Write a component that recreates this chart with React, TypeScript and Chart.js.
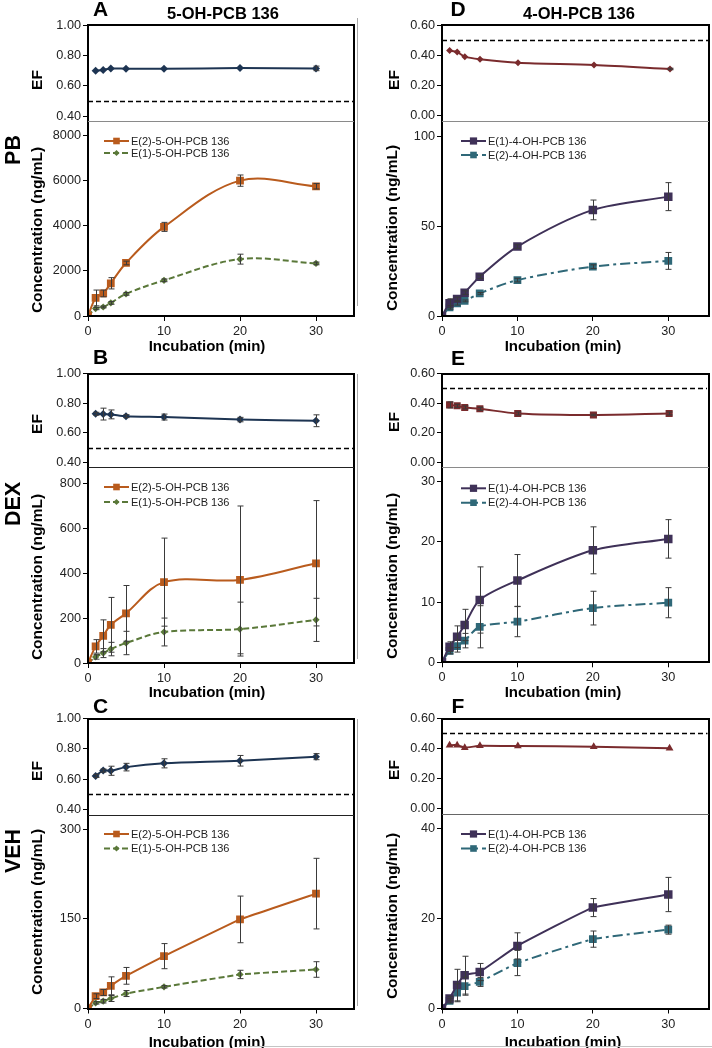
import React, { useEffect, useRef } from 'react';
import { Chart, registerables } from 'chart.js';
Chart.register(...registerables);

const FONT = "'Liberation Sans', Arial, Helvetica, sans-serif";

// ---------- data ----------
const TIME = [0, 1, 2, 3, 5, 10, 20, 30];
const EF_TIME = [1, 2, 3, 5, 10, 20, 30];
const X_TICKS = [0, 10, 20, 30];

const EF_TICKS_5OH = [0.4, 0.6, 0.8, 1.0];
const EF_TICKS_4OH = [0, 0.2, 0.4, 0.6];

const CONC_TICKS_A = [0, 2000, 4000, 6000, 8000];
const CONC_TICKS_B = [0, 200, 400, 600, 800];
const CONC_TICKS_C = [0, 150, 300];
const CONC_TICKS_D = [0, 50, 100];
const CONC_TICKS_E = [0, 10, 20, 30];
const CONC_TICKS_F = [0, 20, 40];

const LABEL_E2_5OH = 'E(2)-5-OH-PCB 136';
const LABEL_E1_5OH = 'E(1)-5-OH-PCB 136';
const LABEL_E1_4OH = 'E(1)-4-OH-PCB 136';
const LABEL_E2_4OH = 'E(2)-4-OH-PCB 136';

// EF values (A-C: 5-OH-PCB 136, D-F: 4-OH-PCB 136)
const EF_A = [0.70, 0.705, 0.715, 0.713, 0.713, 0.717, 0.715];
const EF_A_ERR = [0, 0, 0, 0, 0, 0, 0.015];
const EF_B = [0.728, 0.726, 0.724, 0.712, 0.706, 0.689, 0.681];
const EF_B_ERR = [0.01, 0.04, 0.03, 0.01, 0.02, 0.015, 0.04];
const EF_C = [0.621, 0.656, 0.655, 0.679, 0.704, 0.721, 0.748];
const EF_C_ERR = [0.01, 0.01, 0.03, 0.025, 0.03, 0.035, 0.02];
const EF_D = [0.43, 0.42, 0.39, 0.373, 0.35, 0.335, 0.308];
const EF_D_ERR = [0, 0, 0, 0, 0, 0, 0.005];
const EF_E = [0.388, 0.382, 0.371, 0.362, 0.330, 0.320, 0.330];
const EF_E_ERR = [0.02, 0.01, 0.01, 0.01, 0.01, 0.005, 0.01];
const EF_F = [0.422, 0.422, 0.405, 0.418, 0.416, 0.412, 0.401];
const EF_F_ERR = [0, 0, 0, 0, 0, 0, 0];

// Concentrations (ng/mL)
const A_E2 = [0, 800, 1000, 1450, 2350, 3950, 6000, 5750];
const A_E2_ERR = [0, 350, 150, 250, 80, 200, 250, 120];
const A_E1 = [0, 330, 400, 580, 980, 1580, 2520, 2330];
const A_E1_ERR = [0, 50, 40, 60, 60, 60, 220, 60];

const B_E2 = [0, 74, 121, 170, 221, 360, 370, 444];
const B_E2_ERR = [0, 30, 71, 122, 124, 196, 329, 279];
const B_E1 = [0, 27, 44, 62, 89, 138, 151, 192];
const B_E1_ERR = [0, 10, 20, 30, 52, 62, 120, 96];

const C_E2 = [0, 20.6, 26.8, 37.9, 54.6, 87.5, 148.9, 192];
const C_E2_ERR = [0, 4, 5, 15, 14, 21, 39, 59];
const C_E1 = [0, 9.4, 12.2, 16.7, 25, 36.2, 56.9, 65.2];
const C_E1_ERR = [0, 2, 3, 5, 5, 2, 7, 13];

const D_E1 = [0, 7.1, 9.5, 13, 21.9, 38.7, 59.1, 66.5];
const D_E1_ERR = [0, 2.5, 1, 1, 1, 1, 5.5, 7.8];
const D_E2 = [0, 4.8, 7.1, 8.4, 12.6, 20, 27.5, 30.7];
const D_E2_ERR = [0, 1, 1, 0.5, 0.5, 1, 1, 4.7];

const E_E1 = [0, 2.6, 4.25, 6.2, 10.35, 13.6, 18.6, 20.5];
const E_E1_ERR = [0, 0.8, 1.8, 2.6, 5.5, 4.3, 3.9, 3.2];
const E_E2 = [0, 1.9, 2.7, 3.6, 5.9, 6.75, 9.0, 9.9];
const E_E2_ERR = [0, 0.5, 1.0, 1.2, 3.5, 2.5, 2.8, 2.5];

const F_E1 = [0, 2.2, 5.2, 7.4, 8.1, 13.9, 22.4, 25.3];
const F_E1_ERR = [0, 0.5, 3.5, 4.2, 1.9, 2.9, 2, 3.8];
const F_E2 = [0, 1.7, 3.5, 4.95, 5.9, 10.1, 15.4, 17.5];
const F_E2_ERR = [0, 0.5, 2, 2, 1, 2.8, 1.8, 1.0];

// ---------- styles ----------
const NAVY = '#1d3452';
const DARKRED = '#7a2b2d';
const ORANGE = '#b95b1d';
const GREEN = '#5a7839';
const PURPLE = '#3f3158';
const TEAL = '#2f6878';

type SeriesSpec = {
  label: string; xs: number[]; ys: number[]; err: number[];
  color: string; style: string; radius: number; dash: number[]; tension: number; width: number;
};

function drawMarker(ctx: CanvasRenderingContext2D, style: string, x: number, y: number, r: number, color: string) {
  ctx.save();
  ctx.fillStyle = color;
  ctx.beginPath();
  if (style === 'rect') {
    const s = r * Math.SQRT1_2;
    ctx.rect(x - s, y - s, 2 * s, 2 * s);
  } else if (style === 'rectRot') {
    ctx.moveTo(x, y - r); ctx.lineTo(x + r, y); ctx.lineTo(x, y + r); ctx.lineTo(x - r, y); ctx.closePath();
  } else if (style === 'triangle') {
    ctx.moveTo(x, y - r); ctx.lineTo(x + r * 0.87, y + r * 0.5); ctx.lineTo(x - r * 0.87, y + r * 0.5); ctx.closePath();
  } else {
    ctx.arc(x, y, r, 0, Math.PI * 2);
  }
  ctx.fill();
  ctx.restore();
}

const errorBarPlugin = {
  id: 'errBars',
  afterDatasetsDraw(chart: any) {
    const ctx = chart.ctx;
    const xs = chart.scales.x, ys = chart.scales.y;
    chart.data.datasets.forEach((ds: any) => {
      const err = ds.errors as number[] | undefined;
      if (!err) return;
      ctx.save();
      ctx.strokeStyle = '#3a3a3a';
      ctx.lineWidth = 1;
      ds.data.forEach((pt: any, j: number) => {
        const e = err[j];
        if (!e) return;
        const px = Math.round(xs.getPixelForValue(pt.x)) + 0.5;
        const y1 = ys.getPixelForValue(pt.y - e);
        const y2 = ys.getPixelForValue(pt.y + e);
        ctx.beginPath();
        ctx.moveTo(px, y1); ctx.lineTo(px, y2);
        ctx.moveTo(px - 3, y1); ctx.lineTo(px + 3, y1);
        ctx.moveTo(px - 3, y2); ctx.lineTo(px + 3, y2);
        ctx.stroke();
      });
      ctx.restore();
    });
  },
};

const refLinePlugin = {
  id: 'refLine',
  afterDatasetsDraw(chart: any, _args: any, opts: any) {
    if (opts == null || opts.value == null) return;
    const ctx = chart.ctx;
    const a = chart.chartArea;
    const y = Math.round(chart.scales.y.getPixelForValue(opts.value)) + 0.5;
    ctx.save();
    ctx.strokeStyle = '#000';
    ctx.lineWidth = 1.5;
    ctx.setLineDash([5, 3]);
    ctx.beginPath();
    ctx.moveTo(a.left, y); ctx.lineTo(a.right, y);
    ctx.stroke();
    ctx.restore();
  },
};

const panelLegendPlugin = {
  id: 'panelLegend',
  afterDraw(chart: any, _args: any, opts: any) {
    if (!opts || !opts.show) return;
    const ctx = chart.ctx;
    const dss = chart.data.datasets;
    for (let k = 0; k < dss.length; k++) {
      const ds = dss[k];
      const y = opts.ys[k];
      const x = opts.x;
      const len = opts.len;
      ctx.save();
      ctx.strokeStyle = ds.borderColor;
      ctx.lineWidth = 2;
      ctx.setLineDash(ds.legendDash || []);
      ctx.beginPath();
      ctx.moveTo(x, y); ctx.lineTo(x + len, y);
      ctx.stroke();
      ctx.setLineDash([]);
      drawMarker(ctx, ds.pointStyle, x + len / 2, y, ds.pointRadius * 0.85, ds.borderColor);
      ctx.fillStyle = '#222';
      ctx.font = `11px ${FONT}`;
      ctx.textBaseline = 'middle';
      ctx.textAlign = 'left';
      ctx.fillText(ds.label, x + len + 2, y + 0.5);
      ctx.restore();
    }
  },
};

Chart.register(errorBarPlugin, refLinePlugin, panelLegendPlugin);

type ChartSpec = {
  w: number; h: number;
  area: { l: number; t: number; r: number; b: number };
  yMin: number; yMax: number; yTicks: number[]; yDigits: number;
  showX: boolean;
  series: SeriesSpec[];
  refLine?: number;
  legend?: { x: number; ys: number[]; len: number };
};

function makeConfig(s: ChartSpec): any {
  const tickFont = { family: FONT, size: 12.7 };
  return {
    type: 'line',
    data: {
      datasets: s.series.map((se) => ({
        label: se.label,
        data: se.xs.map((x, i) => ({ x, y: se.ys[i] })),
        errors: se.err,
        borderColor: se.color,
        backgroundColor: se.color,
        borderWidth: se.width,
        borderDash: se.dash,
        legendDash: se.dash,
        pointStyle: se.style,
        pointRadius: se.radius,
        pointBorderWidth: 0,
        pointBackgroundColor: se.color,
        pointBorderColor: se.color,
        tension: se.tension,
        fill: false,
      })),
    },
    options: {
      animation: false,
      responsive: false,
      maintainAspectRatio: false,
      devicePixelRatio: 1,
      events: [],
      layout: {
        padding: {
          left: 0,
          top: s.area.t,
          right: s.w - s.area.r,
          bottom: s.showX ? 0 : s.h - s.area.b,
        },
      },
      plugins: {
        legend: { display: false },
        tooltip: { enabled: false },
        refLine: { value: s.refLine ?? null },
        panelLegend: s.legend ? { show: true, x: s.legend.x, ys: s.legend.ys, len: s.legend.len } : { show: false },
      },
      scales: {
        x: {
          type: 'linear',
          min: 0,
          max: 35,
          display: s.showX,
          afterBuildTicks: (sc: any) => { sc.ticks = X_TICKS.map((v) => ({ value: v })); },
          afterFit: (sc: any) => { sc.height = s.h - s.area.b; },
          grid: { drawOnChartArea: false, drawTicks: true, tickLength: 5, color: '#000', lineWidth: 1 },
          border: { display: false },
          ticks: { font: tickFont, color: '#222', padding: 3, maxRotation: 0, autoSkip: false },
        },
        y: {
          type: 'linear',
          min: s.yMin,
          max: s.yMax,
          afterBuildTicks: (sc: any) => { sc.ticks = s.yTicks.map((v) => ({ value: v })); },
          afterFit: (sc: any) => { sc.width = s.area.l; },
          grid: { drawOnChartArea: false, drawTicks: true, tickLength: 5, color: '#000', lineWidth: 1 },
          border: { display: false },
          ticks: {
            font: tickFont,
            color: '#222',
            padding: 2,
            autoSkip: false,
            callback: (v: any) => Number(v).toFixed(s.yDigits),
          },
        },
      },
    },
  };
}

function ChartCanvas({ x, y, spec }: { x: number; y: number; spec: ChartSpec }) {
  const ref = useRef<HTMLCanvasElement>(null);
  useEffect(() => {
    const chart = new Chart(ref.current as HTMLCanvasElement, makeConfig(spec));
    return () => chart.destroy();
  }, []);
  return (
    <canvas
      ref={ref}
      width={spec.w}
      height={spec.h}
      style={{ position: 'absolute', left: x, top: y, width: spec.w, height: spec.h }}
    />
  );
}

type PanelSpec = {
  col: number;
  efTop: number; efBot: number; cTop: number; cBot: number;
  ef: number[]; efErr: number[]; efColor: string; efStyle: string; efRadius: number; efTension: number;
  concTicks: number[];
  series: SeriesSpec[];
  legendYs: number[];
  letter: string; letterPos: [number, number];
  efLabelY: number; concLabelY: number; incY: number;
  dividerColor: string;
  rowLabel?: string; rowLabelY?: number;
};

const COLS = [
  { cx: 0, cw: 360, l: 88, r: 354, efMin: 0.4, efMax: 1.0, efTicks: EF_TICKS_5OH, labelX: 37, efLabelX: 37, incX: 207, legendX: 104, letterX: 100.5 },
  { cx: 360, cw: 352, l: 442, r: 709, efMin: 0, efMax: 0.6, efTicks: EF_TICKS_4OH, labelX: 392, efLabelX: 394, incX: 563, legendX: 461, letterX: 458 },
];

function s5(ys: number[], err: number[], which: 2 | 1, tension: number): SeriesSpec {
  return which === 2
    ? { label: LABEL_E2_5OH, xs: TIME, ys, err, color: ORANGE, style: 'rect', radius: 5.5, dash: [], tension, width: 2 }
    : { label: LABEL_E1_5OH, xs: TIME, ys, err, color: GREEN, style: 'rectRot', radius: 3.6, dash: [6, 3], tension, width: 2 };
}
function s4(ys: number[], err: number[], which: 1 | 2, tension: number): SeriesSpec {
  return which === 1
    ? { label: LABEL_E1_4OH, xs: TIME, ys, err, color: PURPLE, style: 'rect', radius: 6, dash: [], tension, width: 2 }
    : { label: LABEL_E2_4OH, xs: TIME, ys, err, color: TEAL, style: 'rect', radius: 5.5, dash: [10, 4, 3, 4], tension, width: 2 };
}

const PANELS: PanelSpec[] = [
  {
    col: 0, efTop: 25, efBot: 121.5, cTop: 135.5, cBot: 316,
    ef: EF_A, efErr: EF_A_ERR, efColor: NAVY, efStyle: 'rectRot', efRadius: 4, efTension: 0.2,
    concTicks: CONC_TICKS_A,
    series: [s5(A_E2, A_E2_ERR, 2, 0.35), s5(A_E1, A_E1_ERR, 1, 0.35)],
    legendYs: [141, 153], letter: 'A', letterPos: [100.5, 8],
    efLabelY: 80, concLabelY: 230, incY: 345, dividerColor: '#8a8a8a',
    rowLabel: 'PB', rowLabelY: 150,
  },
  {
    col: 0, efTop: 373.5, efBot: 467.5, cTop: 483.3, cBot: 663,
    ef: EF_B, efErr: EF_B_ERR, efColor: NAVY, efStyle: 'rectRot', efRadius: 4, efTension: 0.3,
    concTicks: CONC_TICKS_B,
    series: [s5(B_E2, B_E2_ERR, 2, 0.35), s5(B_E1, B_E1_ERR, 1, 0.35)],
    legendYs: [487, 502], letter: 'B', letterPos: [100, 356],
    efLabelY: 424, concLabelY: 577, incY: 691, dividerColor: '#222',
    rowLabel: 'DEX', rowLabelY: 504,
  },
  {
    col: 0, efTop: 718.5, efBot: 815, cTop: 829, cBot: 1008.5,
    ef: EF_C, efErr: EF_C_ERR, efColor: NAVY, efStyle: 'rectRot', efRadius: 4, efTension: 0.3,
    concTicks: CONC_TICKS_C,
    series: [s5(C_E2, C_E2_ERR, 2, 0.05), s5(C_E1, C_E1_ERR, 1, 0.05)],
    legendYs: [834, 848.5], letter: 'C', letterPos: [102, 705],
    efLabelY: 771, concLabelY: 912, incY: 1041, dividerColor: '#222',
    rowLabel: 'VEH', rowLabelY: 851,
  },
  {
    col: 1, efTop: 25, efBot: 121, cTop: 136.5, cBot: 316,
    ef: EF_D, efErr: EF_D_ERR, efColor: DARKRED, efStyle: 'rectRot', efRadius: 3.5, efTension: 0.3,
    concTicks: CONC_TICKS_D,
    series: [s4(D_E1, D_E1_ERR, 1, 0.3), s4(D_E2, D_E2_ERR, 2, 0.3)],
    legendYs: [141, 155], letter: 'D', letterPos: [458, 8],
    efLabelY: 80, concLabelY: 227.5, incY: 345, dividerColor: '#8a8a8a',
  },
  {
    col: 1, efTop: 373.5, efBot: 467.5, cTop: 481.7, cBot: 662.3,
    ef: EF_E, efErr: EF_E_ERR, efColor: DARKRED, efStyle: 'rect', efRadius: 5, efTension: 0.3,
    concTicks: CONC_TICKS_E,
    series: [s4(E_E1, E_E1_ERR, 1, 0.3), s4(E_E2, E_E2_ERR, 2, 0.3)],
    legendYs: [488.3, 502.7], letter: 'E', letterPos: [458, 356.5],
    efLabelY: 422, concLabelY: 576, incY: 691, dividerColor: '#8a8a8a',
  },
  {
    col: 1, efTop: 718.5, efBot: 814, cTop: 828.3, cBot: 1008.5,
    ef: EF_F, efErr: EF_F_ERR, efColor: DARKRED, efStyle: 'triangle', efRadius: 4.5, efTension: 0.1,
    concTicks: CONC_TICKS_F,
    series: [s4(F_E1, F_E1_ERR, 1, 0.1), s4(F_E2, F_E2_ERR, 2, 0.1)],
    legendYs: [834, 848.5], letter: 'F', letterPos: [458, 705],
    efLabelY: 770, concLabelY: 916, incY: 1041, dividerColor: '#666',
  },
];

const TITLES = [
  { text: '5-OH-PCB 136', x: 223, y: 13 },
  { text: '4-OH-PCB 136', x: 579, y: 13 },
];

function Txt({ x, y, text, size, rotate, bold = true }: { x: number; y: number; text: string; size: number; rotate?: boolean; bold?: boolean }) {
  return (
    <div
      style={{
        position: 'absolute',
        left: x,
        top: y,
        transform: `translate(-50%, -50%)${rotate ? ' rotate(-90deg)' : ''}`,
        whiteSpace: 'nowrap',
        fontFamily: FONT,
        fontWeight: bold ? 700 : 400,
        fontSize: size,
        lineHeight: 1,
        color: '#000',
      }}
    >
      {text}
    </div>
  );
}

function Panel({ p }: { p: PanelSpec }) {
  const c = COLS[p.col];
  const efY0 = Math.floor(p.efTop - 15);
  const efH = Math.ceil(p.efBot - efY0 + 4);
  const efSpec: ChartSpec = {
    w: c.cw, h: efH,
    area: { l: c.l - c.cx, t: p.efTop - efY0, r: c.r - c.cx, b: p.efBot - efY0 },
    yMin: c.efMin, yMax: c.efMax, yTicks: c.efTicks, yDigits: 2,
    showX: false,
    series: [{ label: 'EF', xs: EF_TIME, ys: p.ef, err: p.efErr, color: p.efColor, style: p.efStyle, radius: p.efRadius, dash: [], tension: p.efTension, width: 2 }],
    refLine: 0.5,
  };
  const cY0 = Math.floor(p.cTop - 12);
  const cH = Math.ceil(p.cBot - cY0 + 36);
  const concMax = p.concTicks[p.concTicks.length - 1];
  const concSpec: ChartSpec = {
    w: c.cw, h: cH,
    area: { l: c.l - c.cx, t: p.cTop - cY0, r: c.r - c.cx, b: p.cBot - cY0 },
    yMin: 0, yMax: concMax, yTicks: p.concTicks, yDigits: 0,
    showX: true,
    series: p.series,
    legend: { x: c.legendX - c.cx, ys: p.legendYs.map((v) => v - cY0), len: 25 },
  };
  return (
    <>
      <ChartCanvas x={c.cx} y={efY0} spec={efSpec} />
      <ChartCanvas x={c.cx} y={cY0} spec={concSpec} />
      {/* frame */}
      <div
        style={{
          position: 'absolute',
          left: c.l - 1,
          top: p.efTop - 1,
          width: c.r - c.l + 2,
          height: p.cBot - p.efTop + 2,
          border: '2px solid #000',
          boxSizing: 'border-box',
          pointerEvents: 'none',
        }}
      />
      {/* divider between EF and concentration */}
      <div
        style={{
          position: 'absolute',
          left: c.l,
          top: p.efBot - 0.5,
          width: c.r - c.l,
          height: 1,
          background: p.dividerColor,
        }}
      />
      <Txt x={c.letterX} y={p.letterPos[1]} text={p.letter} size={21} />
      <Txt x={c.efLabelX} y={p.efLabelY} text="EF" size={15.5} rotate />
      <Txt x={c.labelX} y={p.concLabelY} text="Concentration (ng/mL)" size={15.5} rotate />
      <Txt x={c.incX} y={p.incY} text="Incubation (min)" size={15} />
      {p.rowLabel ? <Txt x={14} y={p.rowLabelY as number} text={p.rowLabel} size={21.5} rotate /> : null}
      {p.col === 1 ? (
        <div
          style={{
            position: 'absolute',
            left: 357,
            top: p.efTop - (p.efTop < 100 ? 7 : 0),
            width: 1,
            height: p.cBot - p.efTop - 3,
            background: '#a8a8a8',
          }}
        />
      ) : null}
    </>
  );
}

export default function App() {
  return (
    <div
      style={{
        position: 'absolute',
        left: 0,
        top: 0,
        width: 712,
        height: 1048,
        overflow: 'hidden',
        background: '#fff',
      }}
    >
      {PANELS.map((p, i) => (
        <Panel key={i} p={p} />
      ))}
      {TITLES.map((t, i) => (
        <Txt key={i} x={t.x} y={t.y} text={t.text} size={16.5} />
      ))}
      <div style={{ position: 'absolute', left: 240, top: 1046, width: 472, height: 1, background: '#c4c4c4' }} />
    </div>
  );
}
